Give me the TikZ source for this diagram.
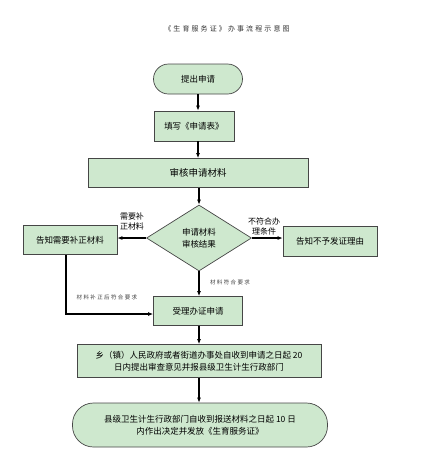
\documentclass[tikz,border=0pt]{standalone}
\usepackage{fontspec}
\setmainfont{Noto Sans CJK SC}
\usetikzlibrary{arrows.meta,positioning,shapes.geometric}
\definecolor{flowgreen}{RGB}{206,232,206}
\definecolor{flowedge}{RGB}{70,70,70}

\begin{document}
\begin{tikzpicture}[x=1pt,y=-1pt,
    box/.style={draw=flowedge,fill=flowgreen,line width=0.7pt,inner sep=1pt,
      align=center,font=\fontsize{8.5}{12}\selectfont},
    term/.style={box,rounded corners=15pt},
    decision/.style={box,diamond,inner sep=0pt},
    flow/.style={-{Latex[length=5pt,width=4pt]},line width=1.1pt},
    note/.style={font=\fontsize{8}{10}\selectfont,align=center},
    tiny/.style={font=\fontsize{5.5}{6}\selectfont\addfontfeature{LetterSpace=25},text=black!75}]
  \useasboundingbox (0,0) rectangle (439,475);
  % Title
  \node[font=\fontsize{7}{8}\selectfont\addfontfeature{LetterSpace=30},text=black!80] (title) at (227,29) {《生育服务证》办事流程示意图};
  %
  % Main column
  \node[term,minimum width=89,minimum height=30] (start) at (198,79) {提出申请};
  \node[box,minimum width=80,minimum height=30] (form) at (194,126) {填写《申请表》};
  \node[box,minimum width=220,minimum height=29,font=\fontsize{9.5}{12}\selectfont] (check) at (198,173) {审核申请材料};
  \node[decision,minimum width=105,minimum height=66] (result) at (199,238) {申请材料\\审核结果};
  \node[box,minimum width=89,minimum height=29] (accept) at (198,311) {受理办证申请};
  \node[box,minimum width=244,minimum height=33] (town) at (199,361)
    {乡（镇）人民政府或者街道办事处自收到申请之日起 20\\日内提出审查意见并报县级卫生计生行政部门};
  \node[box,rounded corners=21pt,minimum width=255,minimum height=44] (county) at (200,425)
    {县级卫生计生行政部门自收到报送材料之日起 10 日\\内作出决定并发放《生育服务证》};
  %
  % Side boxes
  \node[box,minimum width=94,minimum height=29] (redo) at (70,240) {告知需要补正材料};
  \node[box,minimum width=94,minimum height=30] (deny) at (330,241) {告知不予发证理由};
  %
  % Arrows
  \draw[flow] (start.south) -- (start.south |- form.north);
  \draw[flow] (form.south -| start.south) -- (start.south |- check.north);
  \draw[flow] (check.south -| result.north) -- (result.north);
  \draw[flow] (result.west) -- (result.west -| redo.east);
  \draw[flow] (result.east) -- (result.east -| deny.west);
  \draw[flow] (result.south) -- (result.south |- accept.north);
  \draw[flow] ([xshift=-4pt]redo.south) |- ([yshift=-3pt]accept.west);
  \draw[flow] (accept.south -| town.north) -- (town.north);
  \draw[flow] (town.south) -- (town.south |- county.north);
  %
  % Arrow labels
  \node[note] (needmore) at (132,221) {需要补\\正材料};
  \node[note] (refuse) at (264,226) {不符合办\\理条件};
  \node[tiny] (okay) at (230,282) {材料符合要求};
  \node[tiny] (okafter) at (107,297) {材料补正后符合要求};
\end{tikzpicture}
\end{document}
